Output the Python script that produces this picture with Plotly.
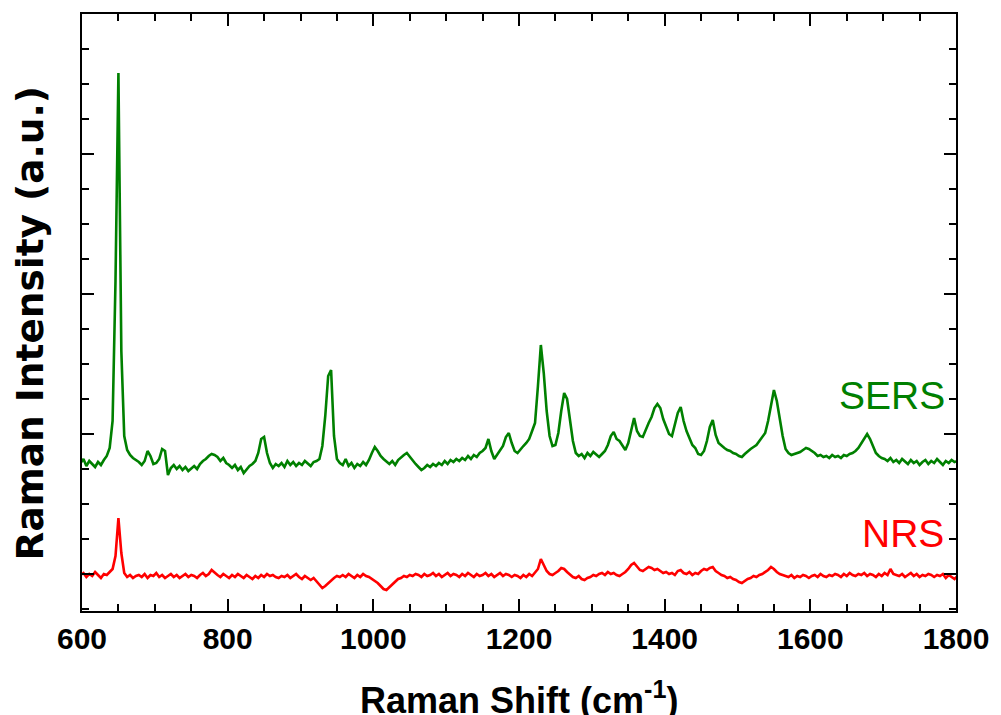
import plotly.graph_objects as go

# Raman shift sampling grid (cm^-1)
raman_shift = list(range(598, 1803, 4))

# SERS spectrum (arbitrary intensity units)
sers_intensity = [
    148, 152, 145, 150, 147, 144, 149, 146, 151, 155,   # 598-634
    163, 190, 330, 538, 260, 175, 161, 156, 153, 151,   # 638-674
    149, 146, 150, 160, 155, 147, 148, 152, 162, 160,   # 678-714
    136, 143, 146, 142, 145, 141, 144, 140, 143, 145,   # 718-754
    142, 147, 150, 152, 155, 157, 156, 154, 150, 153,   # 758-794
    148, 146, 143, 146, 141, 144, 138, 142, 145, 147,   # 798-834
    150, 158, 172, 174, 158, 148, 143, 147, 145, 148,   # 838-874
    144, 150, 146, 149, 145, 148, 146, 150, 147, 145,   # 878-914
    149, 150, 152, 165, 195, 235, 241, 175, 152, 148,   # 918-954
    146, 152, 145, 148, 143, 147, 145, 149, 146, 151,   # 958-994
    158, 164, 160, 155, 152, 149, 147, 150, 146, 151,   # 998-1034
    154, 156, 158, 154, 150, 147, 144, 141, 143, 146,   # 1038-1074
    144, 147, 145, 148, 146, 150, 147, 151, 149, 152,   # 1078-1114
    150, 153, 151, 155, 152, 156, 154, 158, 160, 163,   # 1118-1154
    172, 160, 152, 156, 160, 165, 174, 178, 168, 160,   # 1158-1194
    158, 162, 165, 168, 172, 180, 188, 225, 266, 238,   # 1198-1234
    200, 175, 165, 166, 178, 200, 218, 212, 192, 170,   # 1238-1274
    158, 155, 157, 153, 158, 155, 159, 156, 154, 157,   # 1278-1314
    160, 166, 175, 179, 172, 170, 165, 161, 168, 182,   # 1318-1354
    193, 180, 175, 174, 182, 188, 194, 203, 207, 203,   # 1358-1394
    192, 184, 177, 175, 188, 198, 204, 190, 180, 172,   # 1398-1434
    166, 163, 157, 156, 160, 170, 184, 191, 176, 168,   # 1438-1474
    165, 163, 161, 160, 158, 157, 155, 154, 157, 160,   # 1478-1514
    162, 164, 166, 170, 174, 178, 190, 205, 221, 210,   # 1518-1554
    192, 175, 162, 158, 156, 157, 158, 159, 161, 163,   # 1558-1594
    162, 160, 158, 155, 156, 154, 155, 153, 156, 154,   # 1598-1634
    155, 153, 156, 155, 157, 158, 160, 163, 168, 172,   # 1638-1674
    177, 172, 164, 158, 155, 153, 152, 150, 153, 149,   # 1678-1714
    151, 148, 152, 149, 147, 151, 148, 150, 146, 149,   # 1718-1754
    151, 147, 150, 148, 152, 149, 146, 150, 148, 151,   # 1758-1794
    149, 150,                                           # 1798-1802
]

# Normal Raman spectrum (arbitrary intensity units)
nrs_intensity = [
    36, 38, 34, 37, 35, 39, 36, 33, 37, 36,   # 598-634
    39, 42, 55, 93, 58, 38, 34, 36, 33, 35,   # 638-674
    36, 34, 37, 33, 36, 35, 38, 34, 36, 33,   # 678-714
    35, 37, 34, 36, 33, 35, 37, 34, 36, 35,   # 718-754
    33, 36, 38, 35, 37, 41, 38, 36, 34, 37,   # 758-794
    35, 33, 36, 34, 37, 35, 33, 36, 34, 32,   # 798-834
    35, 33, 36, 34, 37, 35, 36, 34, 33, 35,   # 838-874
    34, 36, 33, 35, 37, 34, 32, 35, 33, 31,   # 878-914
    33, 30, 26, 23, 25, 28, 31, 33, 35, 34,   # 918-954
    36, 34, 37, 35, 33, 36, 34, 37, 35, 34,   # 958-994
    32, 30, 28, 25, 22, 21, 24, 27, 30, 32,   # 998-1034
    33, 35, 34, 36, 35, 37, 36, 34, 37, 35,   # 1038-1074
    36, 38, 35, 37, 34, 36, 38, 35, 37, 36,   # 1078-1114
    34, 37, 35, 38, 36, 34, 37, 35, 36, 38,   # 1118-1154
    35, 37, 34, 36, 38, 35, 37, 36, 34, 36,   # 1158-1194
    35, 33, 36, 34, 37, 35, 38, 42, 52, 46,   # 1198-1234
    40, 37, 36, 38, 40, 43, 42, 39, 36, 34,   # 1238-1274
    33, 35, 32, 31, 33, 34, 36, 35, 37, 38,   # 1278-1314
    36, 39, 37, 38, 36, 35, 37, 39, 42, 46,   # 1318-1354
    48, 44, 41, 40, 42, 44, 43, 41, 42, 40,   # 1358-1394
    38, 39, 37, 38, 36, 40, 41, 38, 37, 39,   # 1398-1434
    36, 38, 37, 40, 42, 41, 43, 44, 40, 38,   # 1438-1474
    36, 35, 33, 34, 32, 31, 29, 28, 30, 32,   # 1478-1514
    33, 35, 34, 36, 37, 39, 41, 44, 42, 39,   # 1518-1554
    37, 36, 35, 34, 36, 33, 35, 34, 36, 35,   # 1558-1594
    33, 35, 36, 34, 37, 35, 34, 36, 35, 37,   # 1598-1634
    36, 34, 37, 35, 38, 36, 35, 37, 36, 38,   # 1638-1674
    35, 37, 36, 34, 37, 35, 38, 36, 42, 37,   # 1678-1714
    36, 35, 37, 34, 36, 38, 35, 37, 34, 36,   # 1718-1754
    35, 37, 36, 34, 36, 35, 37, 33, 36, 34,   # 1758-1794
    32, 35,                                   # 1798-1802
]

series_names = ["SERS", "NRS"]
series_colors = ["#008000", "#ff0000"]
label_positions = [(1788, 216), (1786, 78)]

x_ticks = [600, 800, 1000, 1200, 1400, 1600, 1800]

fig = go.Figure()
for name, yvals, col in zip(series_names, [sers_intensity, nrs_intensity], series_colors):
    fig.add_trace(go.Scatter(x=raman_shift, y=yvals, mode="lines", name=name,
                             line=dict(color=col, width=2.6), showlegend=False))

axis_common = dict(
    showline=True, linecolor="black", linewidth=2, mirror="ticks",
    ticks="inside", ticklen=12, tickwidth=2, tickcolor="black",
    showgrid=False, zeroline=False,
)

fig.update_layout(
    width=1001, height=715,
    margin=dict(l=82, r=39, t=14, b=104),
    paper_bgcolor="white", plot_bgcolor="white",
    xaxis=dict(range=[600, 1800], tickvals=x_ticks,
               tickfont=dict(family="Liberation Sans", size=30, color="black", weight="bold"),
               minor=dict(dtick=50, tick0=600, ticks="inside", ticklen=7, tickwidth=2,
                          tickcolor="black", showgrid=False),
               **axis_common),
    yaxis=dict(range=[0, 597], tick0=37, dtick=140, showticklabels=False,
               minor=dict(dtick=35, tick0=2, ticks="inside", ticklen=7, tickwidth=2,
                          tickcolor="black", showgrid=False),
               **axis_common),
)

for name, col, (lx, ly) in zip(series_names, series_colors, label_positions):
    fig.add_annotation(x=lx, y=ly, xref="x", yref="y", text=name, showarrow=False,
                       xanchor="right", yanchor="middle",
                       font=dict(family="Liberation Sans", size=39, color=col))

fig.add_annotation(x=0.5, y=0, xref="paper", yref="paper", yanchor="middle", yshift=-87,
                   text="Raman Shift (cm<sup>-1</sup>)", showarrow=False,
                   font=dict(family="Liberation Sans", size=36, color="black", weight="bold"))
fig.add_annotation(x=0, y=0.5, xref="paper", yref="paper", xanchor="center", yanchor="middle",
                   xshift=-53, yshift=-11, textangle=-90,
                   text="Raman Intensity (a.u.)", showarrow=False,
                   font=dict(family="DejaVu Sans", size=37.5, color="black", weight="bold"))

fig.write_html("out.html")
